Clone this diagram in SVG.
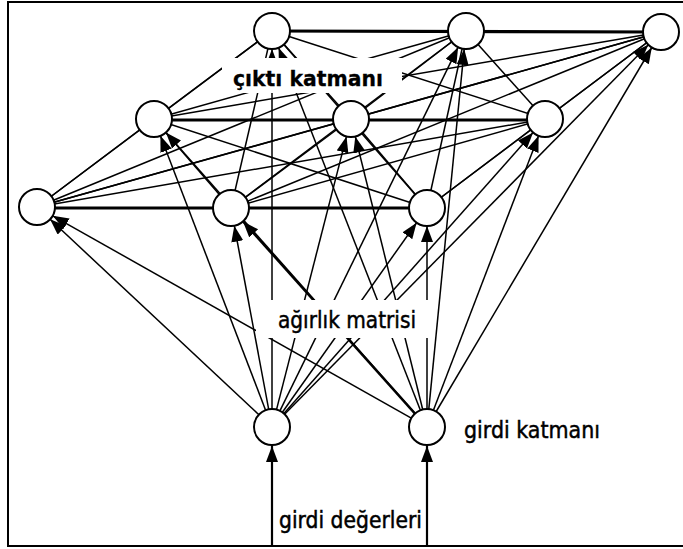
<svg xmlns="http://www.w3.org/2000/svg" width="683" height="549" viewBox="0 0 683 549">
<style>
.ln{stroke:#000;stroke-width:1.5;fill:none}
.row{stroke:#000;stroke-width:3.2;fill:none}
.in{stroke:#000;stroke-width:1.5;fill:none;marker-end:url(#ah)}
.nd{fill:#fff;stroke:#000;stroke-width:2}
.lb{font-family:"DejaVu Sans","Liberation Sans",sans-serif;font-size:23px;fill:#000;stroke:#000;stroke-width:0.5}
.bg{fill:#fff}
</style>
<defs>
<marker id="ah" markerUnits="userSpaceOnUse" markerWidth="17" markerHeight="13" refX="16" refY="6" orient="auto">
<path d="M0,0 L16,6 L0,12 z" fill="#000"/>
</marker>
</defs>
<rect x="8" y="2" width="690" height="544" fill="#fff" stroke="#000" stroke-width="2"/>
<g id="connectors">
<g id="lateral">
<line class="row" x1="272" y1="31" x2="661" y2="32"/>
<line class="row" x1="154" y1="120" x2="545" y2="120"/>
<line class="row" x1="37" y1="208" x2="427" y2="208"/>
<line class="ln" x1="272" y1="31" x2="154" y2="119"/>
<line class="ln" x1="272" y1="31" x2="351" y2="119"/>
<line class="ln" x1="272" y1="31" x2="545" y2="119"/>
<line class="ln" x1="272" y1="31" x2="37" y2="207"/>
<line class="ln" x1="272" y1="31" x2="231" y2="208"/>
<line class="ln" x1="272" y1="31" x2="427" y2="208"/>
<line class="ln" x1="466" y1="31" x2="154" y2="119"/>
<line class="ln" x1="466" y1="31" x2="351" y2="119"/>
<line class="ln" x1="466" y1="31" x2="545" y2="119"/>
<line class="ln" x1="466" y1="31" x2="37" y2="207"/>
<line class="ln" x1="466" y1="31" x2="231" y2="208"/>
<line class="ln" x1="466" y1="31" x2="427" y2="208"/>
<line class="ln" x1="661" y1="32" x2="154" y2="119"/>
<line class="ln" x1="661" y1="32" x2="351" y2="119"/>
<line class="ln" x1="661" y1="32" x2="545" y2="119"/>
<line class="ln" x1="661" y1="32" x2="37" y2="207"/>
<line class="ln" x1="661" y1="32" x2="231" y2="208"/>
<line class="ln" x1="661" y1="32" x2="427" y2="208"/>
<line class="ln" x1="154" y1="119" x2="37" y2="207"/>
<line class="ln" x1="154" y1="119" x2="231" y2="208"/>
<line class="ln" x1="154" y1="119" x2="427" y2="208"/>
<line class="ln" x1="351" y1="119" x2="37" y2="207"/>
<line class="ln" x1="351" y1="119" x2="231" y2="208"/>
<line class="ln" x1="351" y1="119" x2="427" y2="208"/>
<line class="ln" x1="545" y1="119" x2="37" y2="207"/>
<line class="ln" x1="545" y1="119" x2="231" y2="208"/>
<line class="ln" x1="545" y1="119" x2="427" y2="208"/>
</g>
<g id="weights">
<line class="in" x1="272" y1="409" x2="272" y2="49"/>
<line class="in" x1="279.9" y1="410.8" x2="458.1" y2="47.2"/>
<line class="in" x1="284.6" y1="414.2" x2="648.4" y2="44.8"/>
<line class="in" x1="265.6" y1="410.2" x2="160.4" y2="135.8"/>
<line class="in" x1="276.5" y1="409.6" x2="346.5" y2="136.4"/>
<line class="in" x1="283.9" y1="413.5" x2="533.1" y2="132.5"/>
<line class="in" x1="258.9" y1="414.7" x2="50.1" y2="219.3"/>
<line class="in" x1="268.7" y1="409.3" x2="234.3" y2="225.7"/>
<line class="in" x1="282.4" y1="412.3" x2="416.6" y2="222.7"/>
<line class="in" x1="420.4" y1="410.2" x2="278.6" y2="47.8"/>
<line class="in" x1="428.8" y1="409.1" x2="464.2" y2="48.9"/>
<line class="in" x1="436.2" y1="411.5" x2="651.8" y2="47.5"/>
<line class="in" x1="415.1" y1="413.5" x2="165.9" y2="132.5"/>
<line class="in" x1="422.7" y1="409.5" x2="355.3" y2="136.5"/>
<line class="in" x1="433.4" y1="410.2" x2="538.6" y2="135.8"/>
<line class="in" x1="411.3" y1="418.2" x2="52.7" y2="215.8"/>
<line class="in" x1="415" y1="413.6" x2="243" y2="221.4" style="stroke-width:2.4"/>
<line class="in" x1="427" y1="409" x2="427" y2="226"/>
</g>
<g id="inputs">
<line class="in" x1="272" y1="545" x2="272" y2="446" style="stroke-width:2.2"/>
<line class="in" x1="427" y1="545" x2="427" y2="446" style="stroke-width:2.2"/>
</g>
</g>
<rect class="bg" x="222" y="58" width="180" height="35"/>
<rect class="bg" x="256" y="300" width="175" height="38"/>
<g id="T1"><circle class="nd" cx="272" cy="31" r="18"/></g>
<g id="T2"><circle class="nd" cx="466" cy="31" r="18"/></g>
<g id="T3"><circle class="nd" cx="661" cy="32" r="18"/></g>
<g id="M1"><circle class="nd" cx="154" cy="119" r="18"/></g>
<g id="M2"><circle class="nd" cx="351" cy="119" r="18"/></g>
<g id="M3"><circle class="nd" cx="545" cy="119" r="18"/></g>
<g id="B1"><circle class="nd" cx="37" cy="207" r="18"/></g>
<g id="B2"><circle class="nd" cx="231" cy="208" r="18"/></g>
<g id="B3"><circle class="nd" cx="427" cy="208" r="18"/></g>
<g id="I1"><circle class="nd" cx="272" cy="427" r="18"/></g>
<g id="I2"><circle class="nd" cx="427" cy="427" r="18"/></g>
<g id="labels">
<text class="lb" x="233" y="86" font-weight="bold" textLength="150" lengthAdjust="spacingAndGlyphs" style="font-size:22px;stroke-width:0.3">çıktı katmanı</text>
<text class="lb" x="278" y="328" textLength="138" lengthAdjust="spacingAndGlyphs">ağırlık matrisi</text>
<text class="lb" x="464" y="438" textLength="136" lengthAdjust="spacingAndGlyphs">girdi katmanı</text>
<text class="lb" x="279" y="528" textLength="143" lengthAdjust="spacingAndGlyphs">girdi değerleri</text>
</g>
</svg>
